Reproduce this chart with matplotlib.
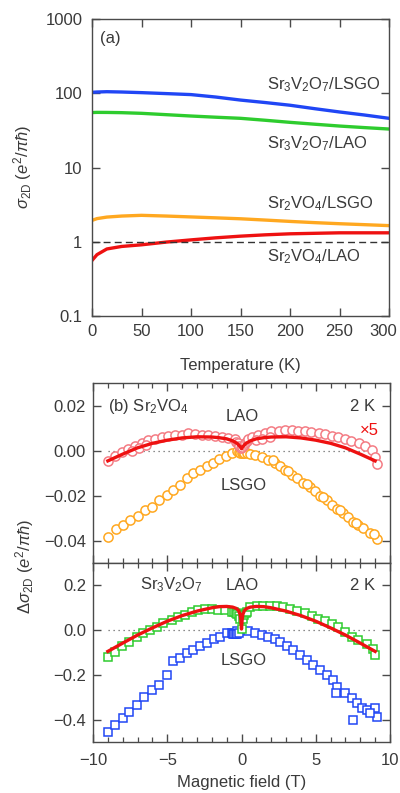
import matplotlib
matplotlib.use("Agg")
import matplotlib.pyplot as plt
from matplotlib.ticker import MultipleLocator, NullLocator
from matplotlib.transforms import ScaledTranslation

plt.rcParams["font.family"] = ["Liberation Sans", "DejaVu Sans"]
plt.rcParams["mathtext.fontset"] = "custom"
plt.rcParams["mathtext.rm"] = "Liberation Sans"
plt.rcParams["mathtext.it"] = "Liberation Sans:italic"
plt.rcParams["font.size"] = 12

TXT = "#3a3a3a"
AXC = "#4a4a4a"

# ---------------- panel (a): sigma_2D vs temperature ----------------
temp = [0, 5, 15, 30, 50, 75, 100, 125, 150, 175, 200, 225, 250, 275, 300]
sig_s327_lsgo = [103, 104, 105, 104, 102, 99, 96, 89, 81, 75, 69, 62, 56, 51, 46]
sig_s327_lao = [55, 55.3, 55.2, 54.8, 53.7, 51.5, 49.4, 47.6, 46, 43.3, 40.6, 38.3, 36.2, 34.5, 33]
sig_s214_lsgo = [1.94, 2.05, 2.15, 2.22, 2.27, 2.22, 2.16, 2.10, 2.04, 1.96, 1.88, 1.81, 1.75, 1.70, 1.65]
sig_s214_lao = [0.56, 0.67, 0.80, 0.865, 0.91, 0.99, 1.06, 1.13, 1.19, 1.24, 1.28, 1.30, 1.32, 1.32, 1.32]

# ---------------- panel (b) top: Sr2VO4, delta sigma vs field ----------------
b_lao214 = [-8.97, -8.52, -8.07, -7.62, -7.17, -6.72, -6.27, -5.82, -5.38, -4.93,
            -4.48, -4.03, -3.58, -3.13, -2.68, -2.23, -1.78, -1.34, -0.89, -0.44,
            -0.35, -0.25, -0.15, -0.05, 0.05, 0.15, 0.25, 0.35,
            0.45, 0.7, 1.1, 1.6, 2.0, 2.5, 2.9, 3.4, 3.8, 4.3, 4.7, 5.2, 5.6,
            6.1, 6.5, 7.0, 7.4, 7.9, 8.3, 8.8, 9.0, 9.1,
            -7.4, -6.9, -6.4, 1.0, 1.4, 1.9]
d_lao214 = [-0.0048, -0.0025, -0.0008, 0.0007, 0.0022, 0.0034, 0.0046, 0.0052, 0.0061, 0.0064,
            0.0067, 0.0070, 0.0076, 0.0073, 0.0070, 0.0067, 0.0064, 0.0061, 0.0055, 0.0049,
            0.0040, 0.0032, 0.0022, 0.0012, 0.0015, 0.0025, 0.0035, 0.0042,
            0.0050, 0.0062, 0.0070, 0.0078, 0.0085, 0.0088, 0.0090, 0.0089, 0.0088, 0.0085, 0.0082,
            0.0077, 0.0072, 0.0065, 0.0058, 0.0050, 0.0042, 0.0032, 0.0020, 0.0003, -0.0030, -0.0060,
            -0.0002, 0.0012, 0.0026, 0.0045, 0.0052, 0.0060]

b_lsgo214 = [-8.97, -8.45, -7.96, -7.51, -6.95, -6.50, -6.05, -5.53, -5.04, -4.59,
             -4.14, -3.69, -3.25, -2.79, -2.34, -1.94, -1.49, -1.04, -0.66, -0.32,
             -0.2, -0.1, 0.0, 0.1, 0.2, 0.4, 0.6,
             0.91, 1.36, 1.81, 2.26, 2.59, 2.93, 3.38, 3.72, 4.16, 4.61, 4.95, 5.29,
             5.74, 6.07, 6.41, 6.86, 7.19, 7.53, 7.87, 8.20, 8.65, 9.10,
             2.1, 3.1, 4.4, 5.5, 6.6, 7.7, 8.9]
d_lsgo214 = [-0.0383, -0.0350, -0.0331, -0.0309, -0.0291, -0.0264, -0.0249, -0.0219, -0.0197, -0.0174,
             -0.0152, -0.0122, -0.0100, -0.0088, -0.0070, -0.0055, -0.0037, -0.0025, -0.0010, -0.0003,
             -0.0006, -0.0009, -0.0012, -0.0010, -0.0010, -0.0012, -0.0014,
             -0.0018, -0.0028, -0.0040, -0.0055, -0.0070, -0.0088, -0.0107, -0.0122, -0.0145, -0.0160,
             -0.0182, -0.0201, -0.0219, -0.0242, -0.0261, -0.0279, -0.0294, -0.0316, -0.0331, -0.0346,
             -0.0368, -0.0391,
             -0.0044, -0.0090, -0.0148, -0.0205, -0.0265, -0.0322, -0.0372]

fit214_b = [-9, -8, -7, -6, -5, -4, -3, -2, -1.5, -1, -0.6, -0.3, -0.1, 0,
            0.1, 0.3, 0.6, 1, 1.5, 2, 3, 4, 5, 6, 7, 8, 9]
fit214_d = [-0.0046, -0.0016, 0.0012, 0.0032, 0.0046, 0.0056, 0.0061, 0.0060, 0.0057, 0.0052,
            0.0043, 0.0032, 0.0018, 0.0008,
            0.0018, 0.0032, 0.0043, 0.0052, 0.0057, 0.0060, 0.0061, 0.0056, 0.0046, 0.0032,
            0.0012, -0.0016, -0.0046]

# ---------------- panel (b) bottom: Sr3V2O7 ----------------
b_lao327 = [-8.97, -8.52, -8.07, -7.55, -7.06, -6.61, -6.16, -5.71, -5.27, -4.70,
            -4.26, -3.80, -3.35, -2.91, -2.46, -2.01, -1.56, -1.11, -0.66,
            -0.5, -0.4, -0.3, -0.2, -0.1, 0.0, 0.1, 0.2, 0.3, 0.4,
            0.57, 1.02, 1.47, 1.92, 2.37, 2.82, 3.27, 3.72, 4.28, 4.73, 5.17,
            5.62, 6.07, 6.52, 6.97, 7.42, 7.87, 8.43, 8.88, 8.99]
d_lao327 = [-0.118, -0.096, -0.073, -0.051, -0.029, -0.013, 0.001, 0.016, 0.031, 0.046,
            0.061, 0.068, 0.079, 0.088, 0.094, 0.094, 0.091, 0.088, 0.083,
            0.082, 0.078, 0.072, 0.064, 0.050, 0.004, 0.052, 0.066, 0.075, 0.082,
            0.105, 0.110, 0.110, 0.110, 0.106, 0.103, 0.095, 0.085, 0.076, 0.065, 0.051,
            0.040, 0.028, 0.013, -0.009, -0.032, -0.046, -0.061, -0.084, -0.113]

b_lsgo327 = [-8.97, -8.52, -8.00, -7.55, -7.06, -6.54, -6.05, -5.53, -5.04, -4.59,
             -4.14, -3.69, -3.25, -2.79, -2.34, -1.85, -1.45, -1.00, -0.66, -0.32,
             -0.6, -0.5, -0.4, -0.3, -0.2,
             0.46, 0.91, 1.36, 1.81, 2.26, 2.59, 3.04, 3.49, 3.94, 4.39, 4.84,
             5.29, 5.74, 6.18, 6.41, 6.97, 7.42, 7.76, 8.09, 8.43, 8.99, 9.10,
             7.53, 8.65, 6.36]
d_lsgo327 = [-0.454, -0.424, -0.394, -0.364, -0.334, -0.297, -0.267, -0.245, -0.200, -0.140,
             -0.125, -0.103, -0.088, -0.073, -0.058, -0.040, -0.029, -0.013, -0.011, -0.006,
             -0.016, -0.018, -0.017, -0.016, -0.014,
             -0.006, -0.013, -0.021, -0.029, -0.040, -0.055, -0.070, -0.088, -0.111, -0.133,
             -0.155, -0.178, -0.200, -0.222, -0.252, -0.282, -0.304, -0.327, -0.349, -0.357,
             -0.349, -0.386,
             -0.401, -0.371, -0.280]

fit327_b = [-9, -8, -7, -6, -5, -4, -3, -2, -1.5, -1, -0.6, -0.35, -0.2, -0.1, -0.04, 0,
            0.04, 0.1, 0.2, 0.35, 0.6, 1, 1.5, 2, 3, 4, 5, 6, 7, 8, 9]
fit327_d = [-0.095, -0.058, -0.022, 0.010, 0.040, 0.065, 0.085, 0.100, 0.105, 0.106, 0.103,
            0.097, 0.088, 0.072, 0.045, 0.005,
            0.045, 0.072, 0.088, 0.097, 0.103, 0.106, 0.105, 0.100, 0.085, 0.065, 0.040,
            0.010, -0.022, -0.058, -0.095]

BLUE = "#2046f5"
GREEN = "#2ecc2e"
ORANGE = "#ffa820"
RED = "#ee1111"
PINK = "#f47c84"
FS = 12


def style_axes(ax, xpad=5, ypad=5):
    for s in ax.spines.values():
        s.set_color(AXC)
        s.set_linewidth(1.0)
    ax.tick_params(which="both", direction="in", top=True, right=True,
                   colors=AXC, labelcolor=TXT, labelsize=FS)
    ax.tick_params(which="major", length=6, width=1.0)
    ax.tick_params(which="minor", length=3.5, width=0.9)
    ax.tick_params(axis="x", pad=xpad)
    ax.tick_params(axis="y", pad=ypad)


def put(ax, x, y, s, ha="left", color=TXT):
    ax.text(x, y, s, transform=ax.transAxes, color=color, fontsize=FS,
            va="center", ha=ha)


fig = plt.figure(figsize=(4.0, 7.93), dpi=100)

# panel (a)
ax_a = fig.add_axes([0.230, 0.6015, 0.7425, 0.3745])
ax_a.plot(temp, sig_s327_lsgo, color=BLUE, lw=2.4)
ax_a.plot(temp, sig_s327_lao, color=GREEN, lw=2.4)
ax_a.plot(temp, sig_s214_lsgo, color=ORANGE, lw=2.4)
ax_a.plot(temp, sig_s214_lao, color=RED, lw=2.4)
ax_a.axhline(1, color="#333333", lw=1.0, ls=(0, (5, 3)))
ax_a.set_yscale("log")
ax_a.set_xlim(0, 300)
ax_a.set_ylim(0.1, 1000)
ax_a.set_xticks([0, 50, 100, 150, 200, 250, 300])
ax_a.set_yticks([0.1, 1, 10, 100, 1000])
ax_a.set_yticklabels(["0.1", "1", "10", "100", "1000"])
ax_a.yaxis.set_minor_locator(NullLocator())
style_axes(ax_a, xpad=6, ypad=7)
# the last temperature label sits a little left of its tick, as in the source
last = ax_a.xaxis.get_major_ticks()[-1].label1
last.set_transform(last.get_transform() + ScaledTranslation(-0.06, 0, fig.dpi_scale_trans))
ax_a.set_xlabel("Temperature (K)", color=TXT, fontsize=FS)
ax_a.xaxis.set_label_coords(0.5, -0.141)
ax_a.set_ylabel(r"$\sigma_{\rm 2D}$ ($e^2$/$\pi\hbar$)", color=TXT, fontsize=FS)
ax_a.yaxis.set_label_coords(-0.195, 0.5)
put(ax_a, 0.027, 0.936, "(a)")
put(ax_a, 0.589, 0.778, r"Sr$_3$V$_2$O$_7$/LSGO")
put(ax_a, 0.589, 0.582, r"Sr$_3$V$_2$O$_7$/LAO")
put(ax_a, 0.589, 0.380, r"Sr$_2$VO$_4$/LSGO")
put(ax_a, 0.589, 0.199, r"Sr$_2$VO$_4$/LAO")

# panel (b) top
ax_b1 = fig.add_axes([0.2325, 0.290, 0.7425, 0.227])
ax_b1.plot([-9, 9], [0, 0], color="#666666", lw=0.9, ls=(0, (1, 3)), zorder=1)
ax_b1.plot(b_lsgo214, d_lsgo214, ls="none", marker="o", ms=6.6, mfc="white",
           mec=ORANGE, mew=1.1, zorder=2)
ax_b1.plot(b_lao214, d_lao214, ls="none", marker="o", ms=6.6, mfc="white",
           mec=PINK, mew=1.1, zorder=3)
ax_b1.plot(fit214_b, fit214_d, color=RED, lw=2.4, zorder=4)
ax_b1.set_xlim(-10, 10)
ax_b1.set_ylim(-0.05, 0.03)
ax_b1.xaxis.set_major_locator(MultipleLocator(5))
ax_b1.xaxis.set_minor_locator(MultipleLocator(1))
ax_b1.set_yticks([-0.04, -0.02, 0.0, 0.02])
ax_b1.set_yticklabels(["\u22120.04", "\u22120.02", "0.00", "0.02"])
ax_b1.yaxis.set_minor_locator(NullLocator())
style_axes(ax_b1, ypad=5)
ax_b1.tick_params(labelbottom=False)
put(ax_b1, 0.05, 0.868, r"(b) Sr$_2$VO$_4$")
put(ax_b1, 0.504, 0.813, "LAO", ha="center")
put(ax_b1, 0.949, 0.868, "2 K", ha="right")
put(ax_b1, 0.93, 0.735, "\u00d75", ha="center", color=RED)
put(ax_b1, 0.507, 0.428, "LSGO", ha="center")

# panel (b) bottom
ax_b2 = fig.add_axes([0.2325, 0.0643, 0.7425, 0.2257])
ax_b2.plot([-9, 9], [0, 0], color="#666666", lw=0.9, ls=(0, (1, 3)), zorder=1)
ax_b2.plot(b_lsgo327, d_lsgo327, ls="none", marker="s", ms=6.2, mfc="white",
           mec=BLUE, mew=1.1, zorder=2)
ax_b2.plot(b_lao327, d_lao327, ls="none", marker="s", ms=6.2, mfc="white",
           mec=GREEN, mew=1.1, zorder=3)
ax_b2.plot(fit327_b, fit327_d, color=RED, lw=2.4, zorder=4)
ax_b2.set_xlim(-10, 10)
ax_b2.set_ylim(-0.5, 0.3)
ax_b2.xaxis.set_minor_locator(MultipleLocator(1))
ax_b2.set_xticks([-10, -5, 0, 5, 10])
ax_b2.set_xticklabels(["\u221210", "\u22125", "0", "5", "10"])
ax_b2.set_yticks([-0.4, -0.2, 0.0, 0.2])
ax_b2.set_yticklabels(["\u22120.4", "\u22120.2", "0.0", "0.2"])
ax_b2.yaxis.set_minor_locator(NullLocator())
style_axes(ax_b2, xpad=8, ypad=5)
ax_b2.set_xlabel("Magnetic field (T)", color=TXT, fontsize=FS)
ax_b2.xaxis.set_label_coords(0.5, -0.187)
put(ax_b2, 0.158, 0.877, r"Sr$_3$V$_2$O$_7$")
put(ax_b2, 0.504, 0.877, "LAO", ha="center")
put(ax_b2, 0.949, 0.877, "2 K", ha="right")
put(ax_b2, 0.507, 0.458, "LSGO", ha="center")

fig.text(0.062, 0.286, r"$\mathit{\Delta}\sigma_{\rm 2D}$ ($e^2$/$\pi\hbar$)",
         rotation=90, color=TXT, fontsize=FS, va="center", ha="center")

fig.savefig("out.png", dpi=100)
